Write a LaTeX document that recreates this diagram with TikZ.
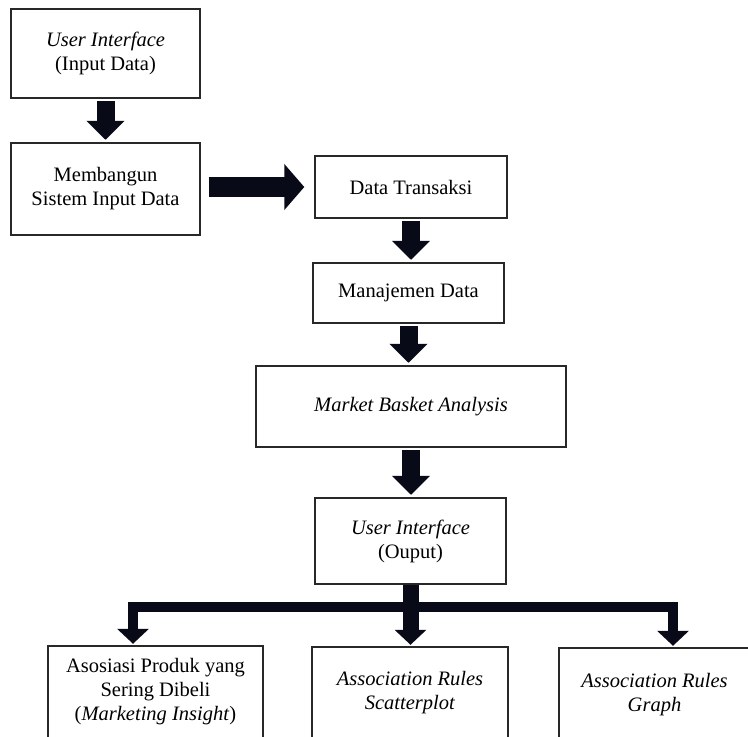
\documentclass[tikz,border=0pt]{standalone}
\usepackage{fontspec}
\setmainfont{Liberation Serif}
\usetikzlibrary{arrows.meta, positioning}

\definecolor{boxline}{RGB}{40,40,40}
\definecolor{arrowfill}{RGB}{8,10,24}

\begin{document}
\begin{tikzpicture}[
    x=1pt, y=-1pt,
    proc/.style={rectangle, draw=boxline, line width=1.4pt, fill=white, align=center, inner sep=0pt, font=\fontsize{20.5}{24}\selectfont},
    bigarrow/.style={draw=arrowfill, line width=18pt, -{Triangle[length=19pt, width=37pt]}, shorten <=2.5pt, shorten >=2.5pt},
    branch/.style={draw=arrowfill, line width=10pt, line join=miter, -{Triangle[length=15pt, width=31pt]}, shorten >=1.5pt}
]
\clip (0,0) rectangle (748,737);
\fill[white] (0,0) rectangle (748,737);

% Input side
\node[proc, minimum width=189pt, minimum height=89pt] (uiin) at (105.5,53.5) {\textit{User Interface}\\(Input Data)};
\node[proc, minimum width=189pt, minimum height=92pt] (build) at (105.5,189) {Membangun\\Sistem Input Data};

\draw[bigarrow] (uiin) -- (build);

% Processing chain
\node[proc, minimum width=192pt, minimum height=62pt] (trans) at (411,187) {Data Transaksi};
\node[proc, minimum width=191pt, minimum height=60pt] (manage) at (408.5,293) {Manajemen Data};
\node[proc, minimum width=310pt, minimum height=81pt] (mba) at (411,406.5) {\textit{Market Basket Analysis}};
\node[proc, minimum width=191pt, minimum height=86pt] (uiout) at (410.5,541) {\textit{User Interface}\\(Ouput)};

\draw[bigarrow, line width=20pt, -{Triangle[length=20pt, width=45pt]}, shorten <=8pt, shorten >=10pt] (build.east |- trans) -- (trans.west);
\draw[bigarrow] (trans.south) -- (trans.south |- manage.north);
\draw[bigarrow] (manage.south) -- (manage.south |- mba.north);
\draw[bigarrow] (mba.south) -- (mba.south |- uiout.north);

% Output results
\node[proc, minimum width=215pt, minimum height=92pt] (asos) at (155.5,692) {Asosiasi Produk yang\\Sering Dibeli\\(\textit{Marketing Insight})};
\node[proc, minimum width=196pt, minimum height=91pt] (scat) at (410,692.5) {\textit{Association Rules}\\\textit{Scatterplot}};
\node[proc, minimum width=191pt, minimum height=93pt] (graph) at (654.5,694.5) {\textit{Association Rules}\\\textit{Graph}};

\coordinate (jM) at (410.5,606.5);
\coordinate (jL) at (133,606.5);
\coordinate (jR) at (673,606.5);

\draw[branch] (jM) -- (jL) -- (jL |- asos.north);
\draw[branch] (jM) -- (jR) -- (jR |- graph.north);
\draw[branch, line width=16pt] (uiout.south) -- (uiout.south |- scat.north);

\end{tikzpicture}
\end{document}
